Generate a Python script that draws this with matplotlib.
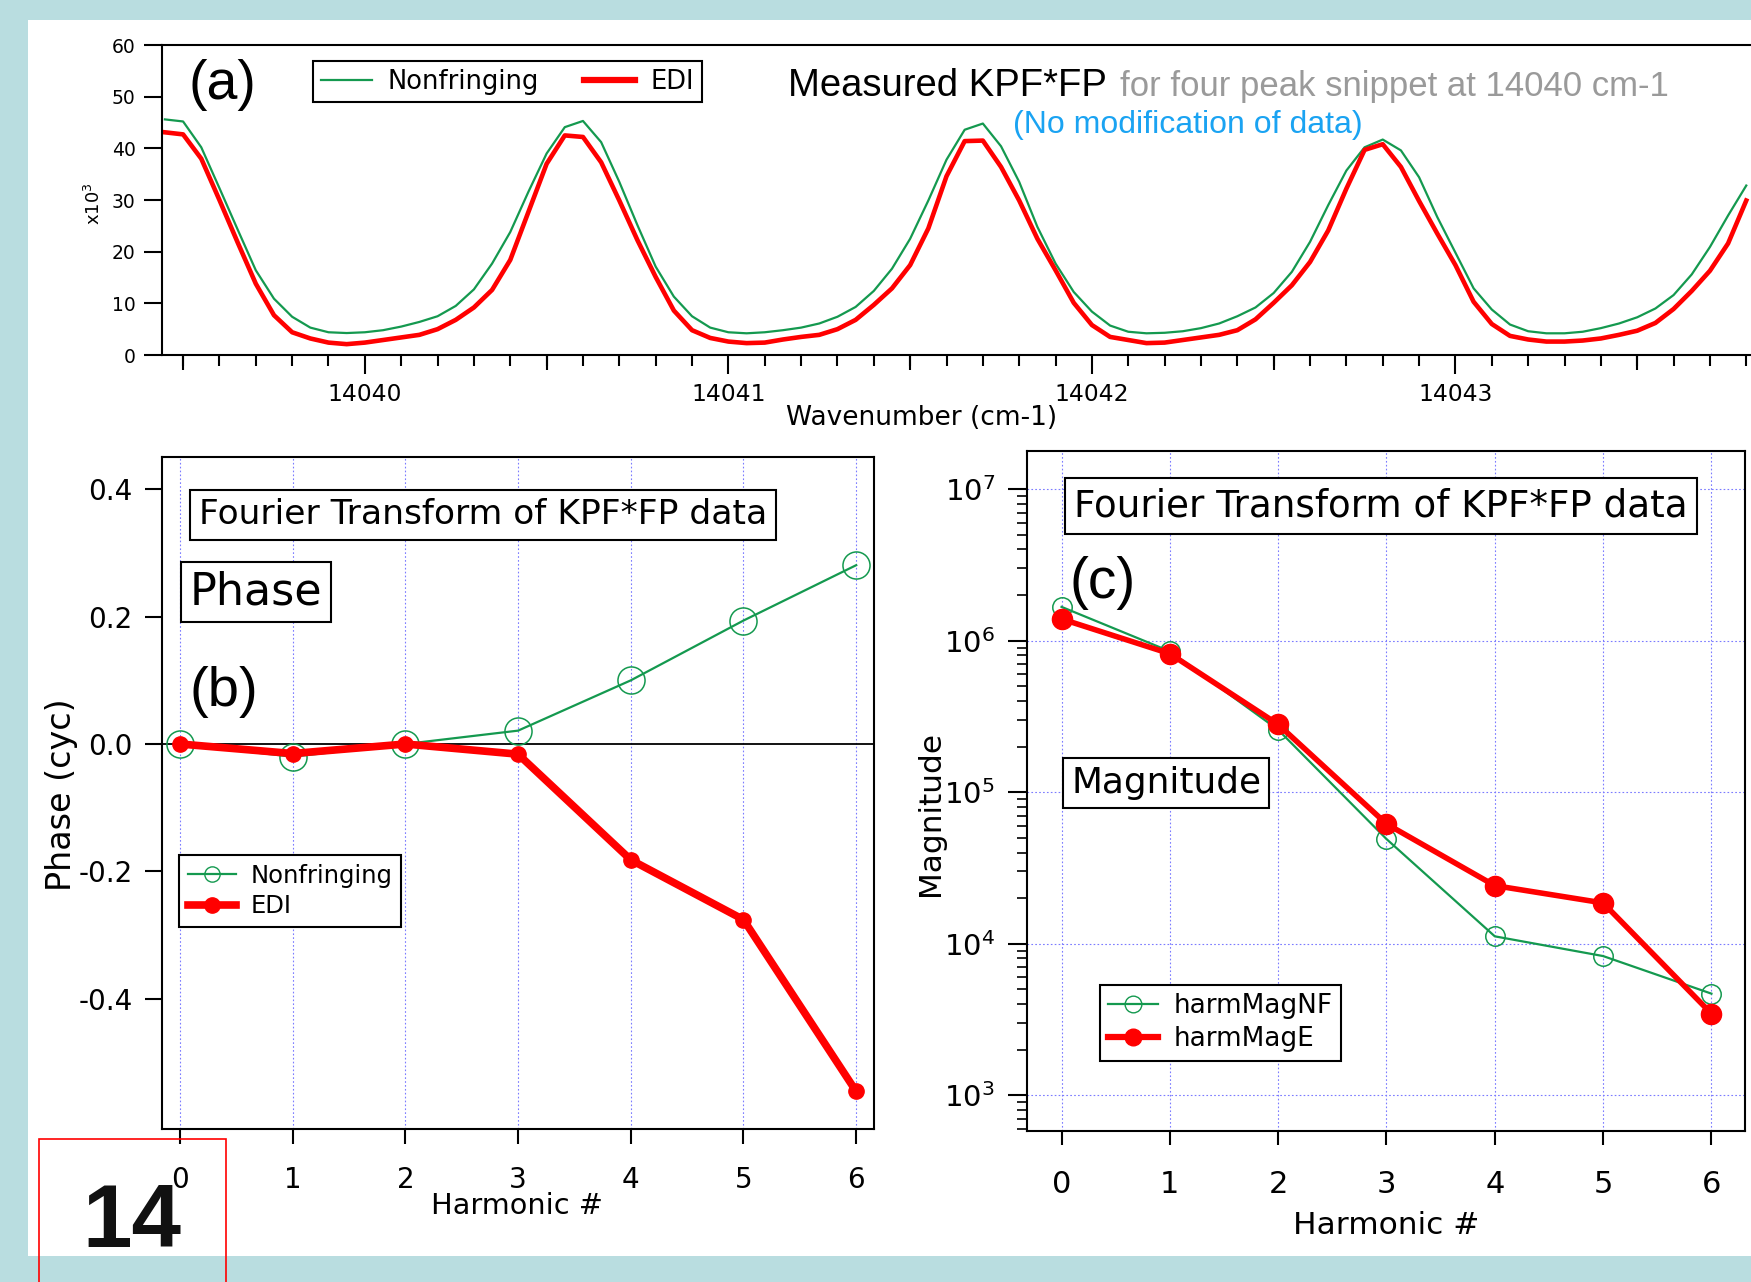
import matplotlib
matplotlib.use("Agg")
import matplotlib.pyplot as plt
from matplotlib.lines import Line2D
from matplotlib.patches import Rectangle

plt.rcParams['axes.unicode_minus'] = False
plt.rcParams['font.family'] = ['DejaVu Sans']

# ---------------- data ----------------
wavenumber = [14039.45, 14039.50, 14039.55, 14039.60, 14039.65, 14039.70, 14039.75, 14039.80,
              14039.85, 14039.90, 14039.95, 14040.00, 14040.05, 14040.10, 14040.15, 14040.20,
              14040.25, 14040.30, 14040.35, 14040.40, 14040.45, 14040.50, 14040.55, 14040.60,
              14040.65, 14040.70, 14040.75, 14040.80, 14040.85, 14040.90, 14040.95, 14041.00,
              14041.05, 14041.10, 14041.15, 14041.20, 14041.25, 14041.30, 14041.35, 14041.40,
              14041.45, 14041.50, 14041.55, 14041.60, 14041.65, 14041.70, 14041.75, 14041.80,
              14041.85, 14041.90, 14041.95, 14042.00, 14042.05, 14042.10, 14042.15, 14042.20,
              14042.25, 14042.30, 14042.35, 14042.40, 14042.45, 14042.50, 14042.55, 14042.60,
              14042.65, 14042.70, 14042.75, 14042.80, 14042.85, 14042.90, 14042.95, 14043.00,
              14043.05, 14043.10, 14043.15, 14043.20, 14043.25, 14043.30, 14043.35, 14043.40,
              14043.45, 14043.50, 14043.55, 14043.60, 14043.65, 14043.70, 14043.75, 14043.80]

# intensity in units of 10^3
kpf_nonfringing = [45.6, 45.2, 40.2, 32.3, 24.3, 16.4, 10.9, 7.4, 5.3, 4.4, 4.25, 4.4, 4.8, 5.5,
                   6.4, 7.5, 9.5, 12.7, 17.7, 23.8, 31.6, 39.0, 44.1, 45.3, 41.2, 33.5, 25.1,
                   17.1, 11.3, 7.5, 5.3, 4.4, 4.2, 4.4, 4.8, 5.3, 6.1, 7.4, 9.3, 12.4, 16.7,
                   22.5, 29.9, 37.8, 43.6, 44.8, 40.4, 33.5, 24.8, 17.7, 12.2, 8.4, 5.7, 4.5,
                   4.2, 4.3, 4.6, 5.2, 6.1, 7.5, 9.2, 12.0, 16.1, 21.9, 29.0, 35.7, 40.2, 41.7,
                   39.6, 34.4, 26.7, 19.8, 12.9, 8.8, 5.9, 4.6, 4.2, 4.2, 4.5, 5.2, 6.1, 7.3,
                   9.0, 11.6, 15.6, 20.9, 27.0, 32.8]
kpf_edi = [43.1, 42.7, 38.0, 30.0, 21.8, 13.8, 7.7, 4.4, 3.2, 2.4, 2.1, 2.4, 2.9, 3.4, 3.9,
           5.0, 6.8, 9.2, 12.6, 18.4, 27.7, 37.0, 42.5, 42.2, 37.3, 29.9, 22.2, 15.1, 8.6,
           4.8, 3.3, 2.6, 2.3, 2.4, 3.0, 3.5, 3.9, 5.0, 6.8, 9.7, 12.9, 17.4, 24.5, 34.6,
           41.4, 41.5, 36.4, 29.9, 22.5, 16.4, 10.1, 5.8, 3.5, 2.9, 2.3, 2.4, 2.9, 3.4, 3.9,
           4.8, 6.9, 10.1, 13.5, 18.0, 24.1, 32.2, 39.7, 40.8, 36.4, 29.8, 23.5, 17.4, 10.3,
           6.0, 3.7, 3.0, 2.6, 2.6, 2.8, 3.2, 3.9, 4.7, 6.2, 8.9, 12.4, 16.3, 21.6, 29.9]

harmonic = [0, 1, 2, 3, 4, 5, 6]
phase_nf = [0.0, -0.020, 0.0, 0.021, 0.100, 0.194, 0.281]
phase_edi = [0.0, -0.015, 0.0, -0.016, -0.182, -0.276, -0.546]
mag_nf = [1.67e6, 8.5e5, 2.58e5, 4.91e4, 1.12e4, 8.3e3, 4.69e3]
mag_edi = [1.39e6, 8.2e5, 2.8e5, 6.18e4, 2.42e4, 1.86e4, 3.46e3]

a_xticks = [14040, 14041, 14042, 14043]
a_yticks = [0, 10, 20, 30, 40, 50, 60]
b_yticks = [-0.4, -0.2, 0.0, 0.2, 0.4]
b_yticklabels = ['-0.4', '-0.2', '0.0', '0.2', '0.4']

# ---------------- style ----------------
GREEN = '#14994f'
RED = '#ff0000'
GRID = '#7b7bff'
BG = '#b9dde0'
W, H = 1751, 1282

fig = plt.figure(figsize=(W / 100, H / 100), dpi=100)
fig.patch.set_facecolor(BG)
fig.add_artist(Rectangle((28 / W, 1 - 1256 / H), 1 - 28 / W, (1256 - 20) / H,
                         transform=fig.transFigure, fc='white', ec='none', zorder=-5))


def px(x0, y0, x1, y1):
    return [x0 / W, 1 - y1 / H, (x1 - x0) / W, (y1 - y0) / H]


def fx(x):
    return x / W


def fy(y):
    return 1 - y / H


# ---------------- panel (a) ----------------
axA = fig.add_axes(px(162, 45, 1751, 355))
axA.plot(wavenumber, kpf_nonfringing, color=GREEN, lw=1.6)
axA.plot(wavenumber, kpf_edi, color=RED, lw=3.3)
axA.spines['right'].set_visible(False)
for s in ['left', 'top', 'bottom']:
    axA.spines[s].set_linewidth(1.5)
axA.set_yticks(a_yticks)
axA.set_xticks(a_xticks)
axA.set_xticklabels([str(v) for v in a_xticks])
minor = [round(14039.5 + 0.1 * i, 1) for i in range(0, 44)]
axA.set_xticks(minor, minor=True)
axA.tick_params(axis='x', which='major', direction='out', length=14, width=1.5,
                labelsize=16.8, pad=6)
axA.tick_params(axis='x', which='minor', direction='out', length=8, width=1.5)
axA.tick_params(axis='y', direction='out', length=13, width=1.5, labelsize=13.5, pad=6)
sec = axA.secondary_xaxis('bottom')
sec.spines['bottom'].set_visible(False)
sec.set_xticks([14039.5, 14040.5, 14041.5, 14042.5, 14043.5])
sec.set_xticklabels([])
sec.tick_params(direction='out', length=11, width=1.5)
axA.set_xlim(14039.442, 14043.813)
axA.set_ylim(0, 60)

legA = axA.legend([Line2D([], [], color=GREEN, lw=1.6), Line2D([], [], color=RED, lw=4.5)],
                  ['Nonfringing', 'EDI'], loc='upper left',
                  bbox_to_anchor=(fx(313), fy(61)), bbox_transform=fig.transFigure,
                  ncol=2, fancybox=False, edgecolor='black', framealpha=1, fontsize=18.5,
                  handlelength=2.0, handletextpad=0.6, columnspacing=1.75, borderpad=0.3,
                  borderaxespad=0)
legA.get_frame().set_linewidth(1.5)

fig.text(fx(94), fy(204), r'x10$^3$', rotation=90, fontsize=13, ha='center', va='center')
fig.text(fx(922), fy(418), 'Wavenumber (cm-1)', fontsize=19, ha='center', va='center')
fig.text(fx(222), fy(85), '(a)', family='Liberation Sans', fontsize=40, ha='center', va='center')
fig.text(fx(788), fy(96), 'Measured KPF*FP', family='Liberation Sans', fontsize=27.5,
         ha='left', va='baseline')
fig.text(fx(1120), fy(96), 'for four peak snippet at 14040 cm-1', family='Liberation Sans',
         fontsize=25, color='#9a9a9a', ha='left', va='baseline')
fig.text(fx(1188), fy(125), '(No modification of data)', family='Liberation Sans',
         fontsize=23, color='#1aa3f2', ha='center', va='center')

# ---------------- panel (b) ----------------
axB = fig.add_axes(px(162, 457, 874, 1129))
axB.set_xticks(harmonic)
axB.set_yticks(b_yticks)
axB.set_yticklabels(b_yticklabels)
axB.set_xlim(-0.159, 6.158)
axB.set_ylim(-0.605, 0.451)
axB.xaxis.grid(True, color=GRID, ls=(0, (1.5, 2)), lw=0.8)
axB.set_axisbelow(True)
axB.axhline(0, color='black', lw=1.3, zorder=1.5)
axB.plot(harmonic, phase_nf, color=GREEN, lw=1.6, marker='o', ms=19.5, mfc='none',
         mec=GREEN, mew=1.1, zorder=3)
axB.plot(harmonic, phase_edi, color=RED, lw=5.5, marker='o', ms=11, mfc=RED, mec=RED, zorder=4)
for s in axB.spines.values():
    s.set_linewidth(1.5)
axB.tick_params(axis='y', direction='out', length=12, width=1.5, labelsize=20, pad=9)
axB.tick_params(axis='x', direction='out', length=11, width=1.5, labelsize=20, pad=16)

fig.text(fx(62), fy(795), 'Phase (cyc)', rotation=90, fontsize=24, ha='center', va='center')
fig.text(fx(517), fy(1206), 'Harmonic #', fontsize=20.7, ha='center', va='center')

box = dict(boxstyle='square,pad=0.25', fc='white', ec='black', lw=1.5)
fig.text(fx(483), fy(515), 'Fourier Transform of KPF*FP data', fontsize=24.8,
         ha='center', va='center', bbox=box, zorder=6)
fig.text(fx(256), fy(592), 'Phase', fontsize=32, ha='center', va='center',
         bbox=dict(boxstyle='square,pad=0.2', fc='white', ec='black', lw=1.5), zorder=6)
fig.text(fx(224), fy(692), '(b)', family='Liberation Sans', fontsize=40.5,
         ha='center', va='center', zorder=6)

legB = axB.legend([Line2D([], [], color=GREEN, lw=1.6, marker='o', ms=11, mfc='none', mec=GREEN),
                   Line2D([], [], color=RED, lw=5.5, marker='o', ms=11, mfc=RED, mec=RED)],
                  ['Nonfringing', 'EDI'], loc='upper left',
                  bbox_to_anchor=(fx(179), fy(855)), bbox_transform=fig.transFigure,
                  fancybox=False, edgecolor='black', framealpha=1, fontsize=17.5,
                  handlelength=2.0, handletextpad=0.58, labelspacing=0.28, borderpad=0.35,
                  borderaxespad=0)
legB.get_frame().set_linewidth(1.5)

# ---------------- panel (c) ----------------
axC = fig.add_axes(px(1027, 451, 1745, 1131))
axC.set_yscale('log')
axC.set_xticks(harmonic)
axC.set_xlim(-0.319, 6.31)
axC.set_ylim(10 ** 2.765, 10 ** 7.251)
axC.grid(True, which='major', color=GRID, ls=(0, (1.5, 2)), lw=0.8)
axC.set_axisbelow(True)
axC.plot(harmonic, mag_nf, color=GREEN, lw=1.6, marker='o', ms=14, mfc='none',
         mec=GREEN, mew=1.1, zorder=3)
axC.plot(harmonic, mag_edi, color=RED, lw=4.0, marker='o', ms=14.5, mfc=RED, mec=RED, zorder=4)
for s in axC.spines.values():
    s.set_linewidth(1.5)
axC.tick_params(axis='y', which='major', direction='out', length=14, width=1.5,
                labelsize=21, pad=9)
axC.tick_params(axis='y', which='minor', direction='out', length=7, width=1.2)
axC.tick_params(axis='x', direction='out', length=10, width=1.5, labelsize=22, pad=18)

fig.text(fx(930), fy(814), 'Magnitude', rotation=90, fontsize=22.4, ha='center', va='center')
fig.text(fx(1386), fy(1226), 'Harmonic #', fontsize=22.5, ha='center', va='center')

fig.text(fx(1381), fy(506), 'Fourier Transform of KPF*FP data', fontsize=26.8,
         ha='center', va='center', bbox=box, zorder=6)
fig.text(fx(1103), fy(583), '(c)', family='Liberation Sans', fontsize=41,
         ha='center', va='center', zorder=6)
fig.text(fx(1166), fy(783), 'Magnitude', fontsize=25.8, ha='center', va='center',
         bbox=dict(boxstyle='square,pad=0.22', fc='white', ec='black', lw=1.5), zorder=6)

legC = axC.legend([Line2D([], [], color=GREEN, lw=1.6, marker='o', ms=12, mfc='none', mec=GREEN),
                   Line2D([], [], color=RED, lw=4.5, marker='o', ms=12, mfc=RED, mec=RED)],
                  ['harmMagNF', 'harmMagE'], loc='upper left',
                  bbox_to_anchor=(fx(1100), fy(985)), bbox_transform=fig.transFigure,
                  fancybox=False, edgecolor='black', framealpha=1, fontsize=18.9,
                  handlelength=1.9, handletextpad=0.6, labelspacing=0.26, borderpad=0.32,
                  borderaxespad=0)
legC.get_frame().set_linewidth(1.5)

# ---------------- page number box ----------------
fig.add_artist(Rectangle((fx(39), -0.01), 187 / W, fy(1139) + 0.01, transform=fig.transFigure,
                         fc='none', ec='red', lw=1.2, zorder=20))
fig.text(fx(132), fy(1247), '14', family='Liberation Sans', fontweight='bold', fontsize=64,
         ha='center', va='baseline', color='#111111', zorder=21)

fig.savefig('out.png', dpi=100, facecolor=fig.get_facecolor())
